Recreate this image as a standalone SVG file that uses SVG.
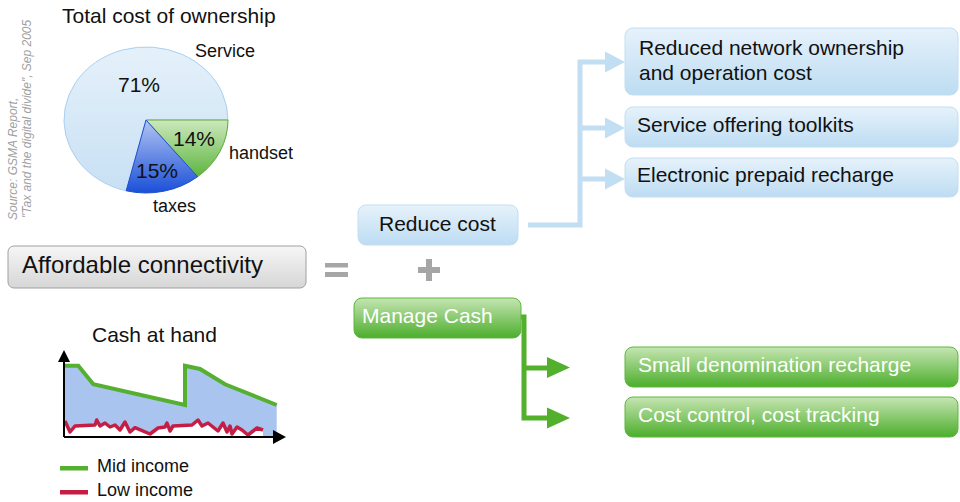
<svg xmlns="http://www.w3.org/2000/svg" width="960" height="502" viewBox="0 0 960 502">
<defs>
<linearGradient id="gBlue" x1="0" y1="0" x2="0" y2="1"><stop offset="0" stop-color="#e6f2fb"/><stop offset="1" stop-color="#bddcf2"/></linearGradient>
<linearGradient id="gGreen" x1="0" y1="0" x2="0" y2="1"><stop offset="0" stop-color="#c6e5b3"/><stop offset="1" stop-color="#4cae2c"/></linearGradient>
<linearGradient id="gGray" x1="0" y1="0" x2="0" y2="1"><stop offset="0" stop-color="#f6f6f6"/><stop offset="1" stop-color="#d6d6d6"/></linearGradient>
<linearGradient id="gService" x1="0" y1="0" x2="0" y2="1"><stop offset="0" stop-color="#e5f1fa"/><stop offset="1" stop-color="#c8e0f4"/></linearGradient>
<linearGradient id="gHandset" x1="0" y1="0" x2="0" y2="1"><stop offset="0" stop-color="#cde8bd"/><stop offset="1" stop-color="#5db53f"/></linearGradient>
<linearGradient id="gTaxes" x1="0" y1="0" x2="0" y2="1"><stop offset="0" stop-color="#b2c4f2"/><stop offset="1" stop-color="#1a4fd8"/></linearGradient>
</defs>
<style>
text{font-family:"Liberation Sans",Arial,sans-serif;fill:#111}
.t21{font-size:21px}
.t18{font-size:18px}
.white{fill:#fff}
.src{font-size:12px;font-style:italic;fill:#a0a0a0}
.bbox{fill:url(#gBlue);stroke:#c3def3;stroke-width:1}
.gbox{fill:url(#gGreen);stroke:#5cb83e;stroke-width:1}
.blink{fill:none;stroke:#c2def3;stroke-width:5}
.glink{fill:none;stroke:#52b02c;stroke-width:5}
.bhead{fill:#c2def3}
.ghead{fill:#52b02c}
.op{fill:#a6a6a6}
</style>
<rect width="960" height="502" fill="#fff"/>

<g id="pie">
<text class="t21" x="62" y="23">Total cost of ownership</text>
<path d="M146,120 L126.2,190.8 A82,73 0 1 1 228,120 Z" fill="url(#gService)" stroke="#a9d0f0" stroke-width="1"/>
<path d="M146,120 L228,120 A82,73 0 0 1 197.6,176.7 Z" fill="url(#gHandset)" stroke="#5aaa3a" stroke-width="1"/>
<path d="M146,120 L197.6,176.7 A82,73 0 0 1 126.2,190.8 Z" fill="url(#gTaxes)" stroke="#1f4fd0" stroke-width="1"/>
<text class="t18" x="195" y="57">Service</text>
<text class="t21" x="118" y="92">71%</text>
<text class="t21" x="173" y="146">14%</text>
<text class="t18" x="229" y="159">handset</text>
<text class="t21" x="136" y="178">15%</text>
<text class="t18" x="153" y="212">taxes</text>
</g>

<g id="source">
<text class="src" transform="translate(17,220) rotate(-90)">Source: GSMA Report,</text>
<text class="src" transform="translate(31,218) rotate(-90)">"Tax and the digital divide", Sep 2005</text>
</g>

<g id="affordable">
<rect x="8" y="246" width="298" height="42" rx="6" fill="url(#gGray)" stroke="#a0a0a0" stroke-width="1"/>
<text x="22" y="273" style="font-size:24px">Affordable connectivity</text>
</g>

<g id="equals">
<rect class="op" x="325" y="263" width="23" height="4.5"/>
<rect class="op" x="325" y="272" width="23" height="5"/>
</g>
<g id="plus">
<rect class="op" x="418" y="267" width="22" height="6"/>
<rect class="op" x="426" y="259" width="6" height="22"/>
</g>

<g id="cashchart">
<text class="t21" x="92" y="342">Cash at hand</text>
<polygon points="65,365.7 78.3,365.7 93.3,384.3 185,405 185,365.7 200,369 225,384.3 276.7,405 276.7,437 65,437" fill="#aac4f0"/>
<polygon points="65,421 70,432 75,426 95,425 96.7,420 100,426 105,423 110,427 115,425 120,430 125,422 130,432 135,427.7 150,434 158,428 165,427 167,423 170,431 173,426 192,425 198,420 202,426 208,423 213,427 218,431 223,423 227,432 230,426 232,434 237,427 242,430 248,435 257,428 263,430 263,437 65,437" fill="#fff"/>
<polyline points="65,365.7 78.3,365.7 93.3,384.3 185,405 185,365.7 200,369 225,384.3 276.7,405" fill="none" stroke="#55b030" stroke-width="4"/>
<polyline points="65,421 70,432 75,426 95,425 96.7,420 100,426 105,423 110,427 115,425 120,430 125,422 130,432 135,427.7 150,434 158,428 165,427 167,423 170,431 173,426 192,425 198,420 202,426 208,423 213,427 218,431 223,423 227,432 230,426 232,434 237,427 242,430 248,435 257,428 263,430" fill="none" stroke="#c41e45" stroke-width="3.5" stroke-linejoin="round"/>
<line x1="64" y1="437" x2="64" y2="360" stroke="#000" stroke-width="2"/>
<line x1="64" y1="437" x2="275" y2="437" stroke="#000" stroke-width="2"/>
<polygon points="64,350 70,362 58,362" fill="#000"/>
<polygon points="286,437 273,430 273,444" fill="#000"/>
</g>

<g id="legend">
<rect x="60" y="466" width="28" height="4.5" fill="#55b030"/>
<text class="t18" x="97" y="472">Mid income</text>
<rect x="60" y="490" width="28" height="4.5" fill="#c41e45"/>
<text class="t18" x="97" y="496">Low income</text>
</g>

<g id="connectors">
<path class="blink" d="M528,225 H580 V62 H607 M580,128 H607 M580,179 H607"/>
<polygon class="bhead" points="625,62 605,51.5 605,72.5"/>
<polygon class="bhead" points="625,128 605,117.5 605,138.5"/>
<polygon class="bhead" points="625,179 605,168.5 605,189.5"/>
<path class="glink" d="M520,317 H524 V418 H550 M524,368 H550"/>
<polygon class="ghead" points="570,367.5 547,357 547,378"/>
<polygon class="ghead" points="570,418 547,407.5 547,428.5"/>
</g>

<g id="reducecost">
<rect class="bbox" x="358" y="205" width="160" height="40" rx="8"/>
<text class="t21" x="379" y="231">Reduce cost</text>
</g>
<g id="managecash">
<rect class="gbox" x="354" y="298" width="167" height="40" rx="8"/>
<text class="t21 white" x="362" y="323">Manage Cash</text>
</g>

<g id="reducednetwork">
<rect class="bbox" x="625" y="28" width="333" height="67" rx="8"/>
<text class="t21" x="639" y="55">Reduced network ownership</text>
<text class="t21" x="639" y="80">and operation cost</text>
</g>
<g id="toolkits">
<rect class="bbox" x="625" y="107" width="333" height="40" rx="8"/>
<text class="t21" x="637" y="132">Service offering toolkits</text>
</g>
<g id="prepaid">
<rect class="bbox" x="625" y="158" width="333" height="39" rx="8"/>
<text class="t21" x="637" y="182">Electronic prepaid recharge</text>
</g>

<g id="smalldenom">
<rect class="gbox" x="625" y="347" width="333" height="40" rx="8"/>
<text class="t21 white" x="638" y="372">Small denomination recharge</text>
</g>
<g id="costcontrol">
<rect class="gbox" x="625" y="397" width="333" height="40" rx="8"/>
<text class="t21 white" x="638" y="422">Cost control, cost tracking</text>
</g>
</svg>
